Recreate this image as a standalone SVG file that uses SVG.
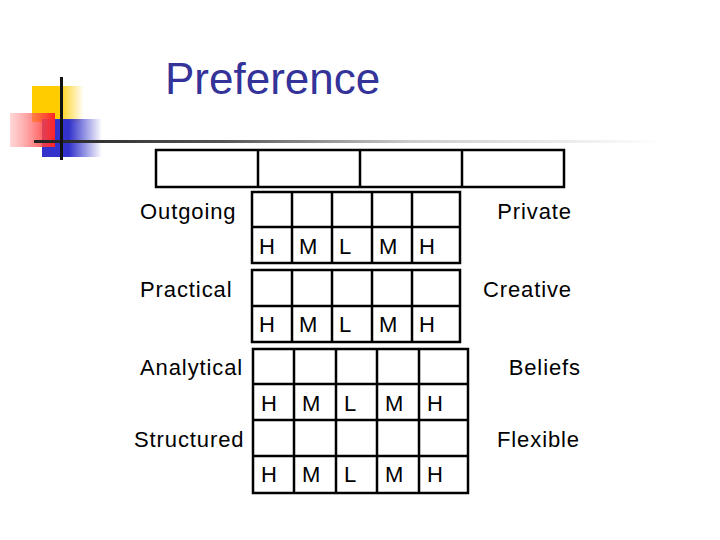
<svg xmlns="http://www.w3.org/2000/svg" width="720" height="540" viewBox="0 0 720 540">
<defs>
<linearGradient id="gy" x1="0" y1="0" x2="1" y2="0"><stop offset="0.5" stop-color="#ffcc00"/><stop offset="1" stop-color="#ffcc00" stop-opacity="0"/></linearGradient>
<linearGradient id="gb" x1="0" y1="0" x2="1" y2="0"><stop offset="0.45" stop-color="#3333cc"/><stop offset="1" stop-color="#3333cc" stop-opacity="0"/></linearGradient>
<linearGradient id="gr" x1="0" y1="0" x2="1" y2="0"><stop offset="0" stop-color="#ff9999" stop-opacity="0.4"/><stop offset="1" stop-color="#ff2222"/></linearGradient>
<linearGradient id="gl" x1="0" y1="0" x2="1" y2="0"><stop offset="0" stop-color="#222222"/><stop offset="0.3" stop-color="#555555"/><stop offset="0.6" stop-color="#cccccc"/><stop offset="1" stop-color="#ffffff"/></linearGradient>
</defs>
<style>
.t{font-family:"Liberation Sans",Arial,sans-serif;fill:#000;}
.lab{font-size:22px;letter-spacing:0.9px;}
.c{font-size:22px;}
.g{fill:#fff;stroke:#000;stroke-width:2.5;}
.ln{stroke:#000;stroke-width:2.5;fill:none;}
</style>
<rect width="720" height="540" fill="#fff"/>
<g id="logo">
<rect x="32" y="86" width="52" height="36" fill="url(#gy)"/>
<rect x="42" y="119" width="60" height="38" fill="url(#gb)"/>
<rect x="10" y="113" width="45" height="34" fill="url(#gr)"/>
<rect x="34" y="140" width="630" height="3" fill="url(#gl)"/>
<rect x="60" y="77" width="3" height="83" fill="#111"/>
</g>
<g id="title"><text class="t" x="165" y="94" style="font-size:44px;fill:#333399">Preference</text></g>
<g id="top-table">
<rect class="g" x="156" y="150" width="408" height="37" stroke-width="3"/>
<path class="ln" stroke-width="3" d="M258 150V187M360 150V187M462 150V187"/>
</g>
<g id="grid1">
<rect class="g" x="252" y="192" width="208" height="71"/>
<path class="ln" d="M252 227H460M292 192V263M332 192V263M372 192V263M412 192V263"/>
<text class="t c" y="254"><tspan x="259">H</tspan><tspan x="299">M</tspan><tspan x="339">L</tspan><tspan x="379">M</tspan><tspan x="419">H</tspan></text>
</g>
<g id="grid2">
<rect class="g" x="252" y="270" width="208" height="72"/>
<path class="ln" d="M252 306H460M292 270V342M332 270V342M372 270V342M412 270V342"/>
<text class="t c" y="332"><tspan x="259">H</tspan><tspan x="299">M</tspan><tspan x="339">L</tspan><tspan x="379">M</tspan><tspan x="419">H</tspan></text>
</g>
<g id="grid3">
<rect class="g" x="253" y="349" width="215" height="144"/>
<path class="ln" d="M253 384H468M253 420H468M253 456H468M294 349V493M336 349V493M377 349V493M419 349V493"/>
<text class="t c" y="411"><tspan x="261">H</tspan><tspan x="302">M</tspan><tspan x="344">L</tspan><tspan x="385">M</tspan><tspan x="427">H</tspan></text>
<text class="t c" y="482"><tspan x="261">H</tspan><tspan x="302">M</tspan><tspan x="344">L</tspan><tspan x="385">M</tspan><tspan x="427">H</tspan></text>
</g>
<g id="labels">
<text class="t lab" x="140" y="219">Outgoing</text>
<text class="t lab" x="572" y="219" text-anchor="end">Private</text>
<text class="t lab" x="140" y="297">Practical</text>
<text class="t lab" x="572" y="297" text-anchor="end">Creative</text>
<text class="t lab" x="140" y="375">Analytical</text>
<text class="t lab" x="581" y="375" text-anchor="end">Beliefs</text>
<text class="t lab" x="134" y="447">Structured</text>
<text class="t lab" x="580" y="447" text-anchor="end">Flexible</text>
</g>
</svg>
